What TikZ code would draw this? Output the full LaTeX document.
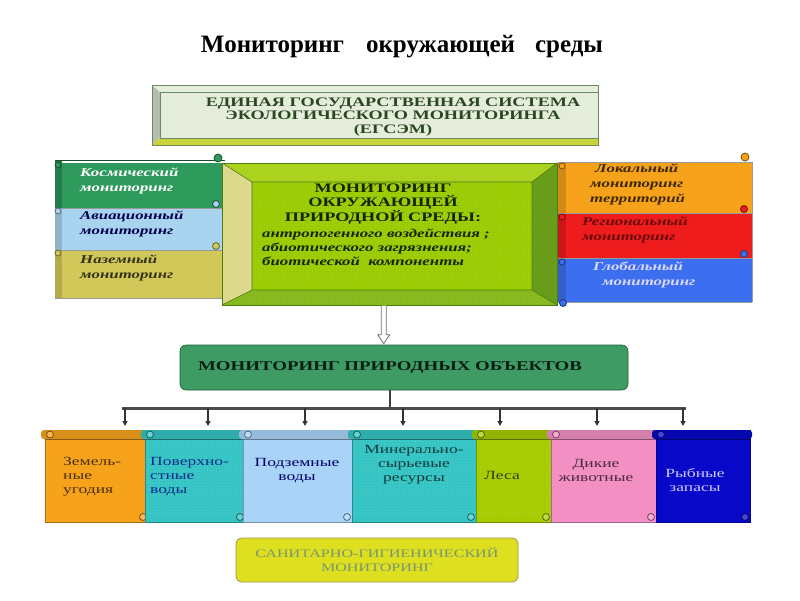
\documentclass[tikz,border=0pt]{standalone}
\usepackage{fontspec}
\setmainfont{Liberation Serif}
\newfontfamily\wf[FakeStretch=1.4]{Liberation Serif}
\usetikzlibrary{patterns,arrows.meta}
\definecolor{egsemfill}{HTML}{E4ECDA}
\definecolor{egsemedge}{HTML}{6A8A60}
\definecolor{egsemtxt}{HTML}{2A4622}
\definecolor{egsembot}{HTML}{C8D43A}
\definecolor{cgreen}{HTML}{2E9A5C}
\definecolor{clblue}{HTML}{A8D4F0}
\definecolor{ckhaki}{HTML}{D2C85A}
\definecolor{cinner}{HTML}{9ACB00}
\definecolor{ctop}{HTML}{AAD21E}
\definecolor{cleft}{HTML}{DCD88C}
\definecolor{cright}{HTML}{6A9C1C}
\definecolor{cbot}{HTML}{86B81A}
\definecolor{cedge}{HTML}{4E7A14}
\definecolor{corange}{HTML}{F7A21B}
\definecolor{cred}{HTML}{EE1C1C}
\definecolor{cblue}{HTML}{3C6EF0}
\definecolor{cobj}{HTML}{3D9B63}
\definecolor{cteal}{HTML}{35C4C4}
\definecolor{cublue}{HTML}{AAD3F8}
\definecolor{cyg}{HTML}{A6CC00}
\definecolor{cpink}{HTML}{F290C4}
\definecolor{cdblue}{HTML}{0808C8}
\definecolor{csan}{HTML}{DEDF1F}
\tikzset{
  dotfill/.style={postaction={pattern=dots, pattern color=white, fill opacity=0.35}},
  capsB/.style={font=\wf\bfseries\fontsize{13}{13.5}\selectfont, align=center, inner sep=0pt},
  bandtxt/.style={font=\wf\bfseries\itshape\fontsize{12}{15}\selectfont, align=left, inner sep=0pt, anchor=west},
  objtxt/.style={font=\wf\fontsize{12.5}{14}\selectfont, inner sep=0pt},
  sbody/.style={rectangle, inner sep=0pt, line width=0.5pt},
  tiparrow/.style={draw=black!80, line width=1.2pt, -{Triangle[length=5pt,width=5pt]}, shorten >=4pt},
  bus/.style={draw=black!70, line width=3pt},
  curl/.style={line width=0.8pt},
  hollowarrow/.style={draw=black!55, fill=white, line width=0.8pt, line join=miter}
}
\newcommand\bscroll[4]{%
  \pgfmathsetmacro\sw{#3-#2}%
  \node[sbody, fill=#4, draw=#4!70!black, minimum width=\sw pt, minimum height=92pt, anchor=north west] (#1) at (#2,430) {};
  \fill[#4!88!black, rounded corners=3pt] (#2-4,430) rectangle (#3+2,439);
  \draw[#4!55!black, line width=0.5pt] (#2,439.5) -- (#3,439.5);
  \draw[curl, draw=#4!50!black, fill=#4!75!white] (#2+5,434.5) circle (3.5pt);
  \draw[curl, draw=#4!50!black, fill=#4!75!white] (#3-5,517) circle (3.5pt);
}
\begin{document}
\begin{tikzpicture}[x=1pt,y=-1pt]
\useasboundingbox (0,0) rectangle (800,600);
\fill[white] (0,0) rectangle (800,600);

% title
\node[font=\fontsize{25}{28}\selectfont\bfseries, inner sep=0pt] (title) at (402,47)
  {Мониторинг\hspace{22pt}окружающей\hspace{20pt}среды};

% EGSEM box
\fill[egsemfill, dotfill] (152,85) rectangle (598,145);
\fill[egsemfill!80!black] (152,85) -- (160,92) -- (160,138) -- (152,145) -- cycle;
\fill[egsemfill!90!white] (152,85) -- (598,85) -- (598,92) -- (160,92) -- cycle;
\fill[egsembot] (152,145) -- (160,138) -- (598,138) -- (598,145) -- cycle;
\draw[egsemedge, line width=0.8pt] (152,85) rectangle (598,145);
\draw[egsemedge, line width=0.5pt] (160,92) rectangle (598,138);
\node[capsB, text=egsemtxt, font=\wf\bfseries\fontsize{13}{13.5}\selectfont] (egsem) at (393,117)
  {ЕДИНАЯ ГОСУДАРСТВЕННАЯ СИСТЕМА\\ЭКОЛОГИЧЕСКОГО МОНИТОРИНГА\\(ЕГСЭМ)};

% left scroll stack
\fill[cgreen] (55,163) rectangle (225,208);
\fill[clblue] (55,208) rectangle (225,250);
\fill[ckhaki] (55,250) rectangle (225,298);
\fill[cgreen!80!black] (55,160) rectangle (62,208);
\fill[clblue!85!black] (55,208) rectangle (62,250);
\fill[ckhaki!85!black] (55,250) rectangle (62,298);
\draw[cgreen!50!black, line width=0.6pt] (55,160) -- (225,160);
\draw[black!40, line width=0.5pt] (55,208) -- (225,208) (55,250) -- (225,250) (55,298) -- (225,298);
\draw[curl, draw=cgreen!50!black, fill=cgreen] (218,158) circle (4pt);
\draw[curl, draw=cgreen!50!black, fill=cgreen] (58,165) circle (3pt);
\draw[curl, draw=clblue!50!black, fill=clblue] (58,211) circle (3pt);
\draw[curl, draw=ckhaki!50!black, fill=ckhaki] (58,253) circle (3pt);
\draw[curl, draw=cgreen!50!black, fill=clblue] (216,204) circle (3.5pt);
\draw[curl, draw=ckhaki!50!black, fill=ckhaki] (216,246) circle (3.5pt);
\node[bandtxt, text=white] (cosm) at (80,181) {Космический\\мониторинг};
\node[bandtxt, text=blue!30!black] (avia) at (80,224) {Авиационный\\мониторинг};
\node[bandtxt, text=ckhaki!25!black] (ground) at (80,268) {Наземный\\мониторинг};

% right scroll stack
\fill[corange] (558,162) rectangle (752,213);
\fill[cred] (558,213) rectangle (752,258);
\fill[cblue] (558,258) rectangle (752,302);
\fill[corange!85!black] (558,162) rectangle (566,213);
\fill[cred!85!black] (558,213) rectangle (566,258);
\fill[cblue!85!black] (558,258) rectangle (566,302);
\draw[black!40, line width=0.5pt] (558,162) -- (752,162) (558,213) -- (752,213) (558,258) -- (752,258) (558,302) -- (752,302) (752,162) -- (752,302);
\draw[curl, draw=corange!50!black, fill=corange] (745,157) circle (4pt);
\draw[curl, draw=corange!50!black, fill=corange] (562,166) circle (3pt);
\draw[curl, draw=cred!50!black, fill=cred] (562,217) circle (3pt);
\draw[curl, draw=cblue!50!black, fill=cblue] (562,262) circle (3pt);
\draw[curl, draw=cred!50!black, fill=cred] (744,209) circle (3.5pt);
\draw[curl, draw=cblue!50!black, fill=cblue] (744,254) circle (3.5pt);
\draw[curl, draw=cblue!50!black, fill=cblue] (563,303) circle (3.5pt);
\node[bandtxt, text=corange!25!black] (local) at (590,184) {\hspace{5pt}Локальный\\мониторинг\\территорий};
\node[bandtxt, text=cred!45!black] (regional) at (582,230) {Региональный\\мониторинг};
\node[bandtxt, text=blue!15!white] (global) at (593,275) {Глобальный\\\hspace{9pt}мониторинг};

% central bevelled box
\node[sbody, minimum width=335pt, minimum height=142pt, anchor=north west] (envbox) at (222,163) {};
\fill[cbot] (222,163) rectangle (557,305);
\fill[ctop] (222,163) -- (557,163) -- (532,182) -- (252,182) -- cycle;
\fill[cleft] (222,163) -- (252,182) -- (252,290) -- (222,305) -- cycle;
\fill[cright] (557,163) -- (557,305) -- (532,290) -- (532,182) -- cycle;
\fill[cbot, dotfill] (222,305) -- (557,305) -- (532,290) -- (252,290) -- cycle;
\fill[cinner, dotfill] (252,182) rectangle (532,290);
\draw[cedge, line width=0.8pt] (222,163) rectangle (557,305);
\draw[cedge, line width=0.6pt] (252,182) rectangle (532,290)
  (222,163) -- (252,182) (557,163) -- (532,182) (222,305) -- (252,290) (557,305) -- (532,290);
\node[capsB, text=cedge!30!black] (envcaps) at (383,204)
  {МОНИТОРИНГ\\ОКРУЖАЮЩЕЙ\\ПРИРОДНОЙ СРЕДЫ:};
\node[bandtxt, text=cedge!30!black, font=\wf\bfseries\itshape\fontsize{12}{14}\selectfont] (envital) at (262,247)
  {антропогенного воздействия ;\\абиотического загрязнения;\\биотической\ \ компоненты};

% objects box
\node[rectangle, rounded corners=6pt, fill=cobj, draw=cobj!60!black, line width=0.6pt,
  minimum width=448pt, minimum height=45pt, text width=412pt, inner xsep=18pt, align=left,
  font=\wf\bfseries\fontsize{13.5}{14}\selectfont, text=cobj!20!black] (objects) at (404,367.5)
  {МОНИТОРИНГ ПРИРОДНЫХ ОБЪЕКТОВ};

% hollow double arrow from the central box to the objects box
\coordinate (aS) at ([xshift=-6pt]envbox.south);
\coordinate (aE) at (aS |- objects.north);
\draw[hollowarrow]
  ([xshift=-2.5pt]aS) -- ([xshift=-2.5pt,yshift=10pt]aE) -- ([xshift=-6pt,yshift=10pt]aE)
  -- ([yshift=1pt]aE) -- ([xshift=6pt,yshift=10pt]aE) -- ([xshift=2.5pt,yshift=10pt]aE)
  -- ([xshift=2.5pt]aS);

% bottom scrolls
\bscroll{land}{45}{148}{corange}
\bscroll{surf}{145}{245}{cteal}
\bscroll{under}{243}{352}{cublue}
\bscroll{mineral}{352}{476}{cteal}
\bscroll{forest}{476}{551}{cyg}
\bscroll{animals}{551}{656}{cpink}
\bscroll{fish}{656}{750}{cdblue}
\path[postaction={pattern=dots, pattern color=white, fill opacity=0.35}] (145,440) rectangle (243,516);
\path[postaction={pattern=dots, pattern color=white, fill opacity=0.35}] (352,440) rectangle (476,516);
\path[postaction={pattern=dots, pattern color=white, fill opacity=0.35}] (476,440) rectangle (551,516);

\node[objtxt, align=left, anchor=west, text=corange!30!black] (landT) at (63,477) {Земель-\\ные\\угодия};
\node[objtxt, align=left, anchor=west, text=cteal!35!blue!60!black] (surfT) at (150,477) {Поверхно-\\стные\\воды};
\node[objtxt, align=center, text=blue!40!black] (underT) at (297,471) {Подземные\\воды};
\node[objtxt, align=center, text=cteal!30!black] (mineralT) at (414,465) {Минерально-\\сырьевые\\ресурсы};
\node[objtxt, align=center, text=cyg!30!black] (forestT) at (502,475) {Леса};
\node[objtxt, align=center, text=cpink!30!black] (animalsT) at (596,470) {Дикие\\животные};
\node[objtxt, align=center, text=blue!20!white] (fishT) at (695,480) {Рыбные\\запасы};

% bus and arrows
\coordinate (busL) at (122,408);
\coordinate (busR) at (686,408);
\coordinate (busM) at (390,408);
\draw[line width=1.2pt, draw=black!75] (busM |- objects.south) -- (busM);
\draw[bus] (busL) -- (busR);
\foreach \x/\n in {125/land, 208/surf, 305/under, 403/mineral, 500/forest, 597/animals, 683/fish}{
  \coordinate (b\n) at (\x,408);
  \draw[tiparrow] (b\n) -- (b\n |- \n.north);
}

% sanitary box
\node[rectangle, rounded corners=6pt, fill=csan, draw=csan!50!black!70, line width=0.8pt,
  minimum width=282pt, minimum height=44pt, align=center,
  font=\wf\fontsize{11.5}{14}\selectfont, text=egsemedge!90!white] (sanit) at (377,560)
  {САНИТАРНО-ГИГИЕНИЧЕСКИЙ\\МОНИТОРИНГ};
\end{tikzpicture}
\end{document}
